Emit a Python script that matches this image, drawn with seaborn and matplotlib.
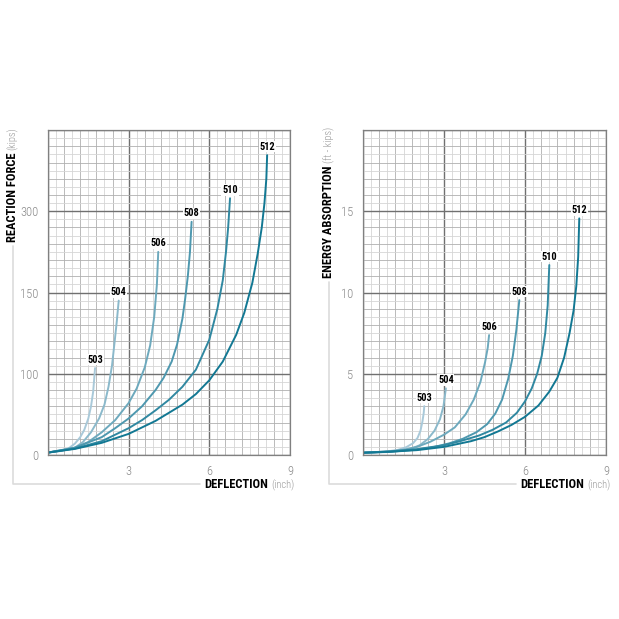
import numpy as np
import pandas as pd
import matplotlib
matplotlib.use("Agg")
import matplotlib.pyplot as plt
from matplotlib.lines import Line2D
import seaborn as sns

models = ["503", "504", "506", "508", "510", "512"]

# reaction force (kips) vs deflection (inch)
rf_503_x = [0, 0.5, 0.8, 1.0, 1.2, 1.35, 1.5, 1.6, 1.68, 1.75]
rf_503_y = [3, 5, 9, 14, 22, 31, 45, 60, 78, 103.5]
rf_504_x = [0, 0.6, 1.0, 1.3, 1.6, 1.9, 2.1, 2.25, 2.38, 2.48, 2.56, 2.63]
rf_504_y = [3, 6, 9, 16, 28, 45, 62, 84, 105, 120, 132.5, 145]
rf_506_x = [0, 1.0, 1.5, 2.0, 2.5, 3.0, 3.3, 3.6, 3.8, 3.95, 4.05, 4.10]
rf_506_y = [3, 9, 16, 28, 43, 64, 82, 104, 117.5, 135, 165, 225]
rf_508_x = [0, 1.0, 2.0, 2.5, 3.0, 3.5, 4.0, 4.3, 4.6, 4.8, 5.0, 5.1, 5.2, 5.28, 5.34]
rf_508_y = [3, 9, 22, 33, 45, 60, 80, 95, 107.5, 118, 134, 146, 180, 225, 280.5]
rf_510_x = [0, 1.0, 2.0, 3.0, 3.5, 4.0, 4.5, 5.0, 5.5, 6.0, 6.3, 6.5, 6.62, 6.7, 6.77]
rf_510_y = [3, 8, 17, 33, 43, 55, 68, 84, 102.5, 121, 140, 172.5, 225, 270, 324]
rf_512_x = [0, 1.0, 2.0, 3.0, 4.0, 5.0, 5.5, 6.0, 6.5, 7.0, 7.3, 7.6, 7.8, 7.95, 8.05, 8.12, 8.15]
rf_512_y = [3, 7.5, 15, 26, 42, 62, 75, 92, 107.5, 124, 137.5, 168, 222, 270, 315, 360, 403.5]

# energy absorption (ft-kips) vs deflection (inch)
ea_503_x = [0, 0.9, 1.3, 1.6, 1.85, 2.02, 2.13, 2.2, 2.25, 2.27]
ea_503_y = [0.14, 0.22, 0.32, 0.48, 0.72, 1.05, 1.5, 2.05, 2.6, 3.01]
ea_504_x = [0, 0.9, 1.4, 1.8, 2.1, 2.4, 2.65, 2.85, 2.98, 3.07]
ea_504_y = [0.14, 0.18, 0.26, 0.4, 0.6, 0.98, 1.5, 2.2, 3.0, 4.10]
ea_506_x = [0, 1.0, 1.5, 2.0, 2.5, 3.0, 3.4, 3.8, 4.1, 4.35, 4.52, 4.62, 4.67]
ea_506_y = [0.14, 0.22, 0.32, 0.5, 0.82, 1.25, 1.7, 2.5, 3.4, 4.5, 5.7, 6.6, 7.38]
ea_508_x = [0, 1.0, 2.0, 2.6, 3.2, 3.7, 4.2, 4.6, 4.9, 5.15, 5.38, 5.55, 5.68, 5.79]
ea_508_y = [0.14, 0.2, 0.33, 0.48, 0.72, 1.0, 1.4, 1.9, 2.55, 3.4, 4.7, 6.1, 7.7, 9.53]
ea_510_x = [0, 1.0, 2.0, 3.0, 3.6, 4.3, 4.8, 5.3, 5.7, 6.0, 6.25, 6.45, 6.62, 6.75, 6.84, 6.90]
ea_510_y = [0.14, 0.22, 0.36, 0.6, 0.85, 1.2, 1.55, 2.0, 2.6, 3.3, 4.1, 5.0, 6.1, 7.5, 9.2, 11.69]
ea_512_x = [0, 1.0, 2.0, 3.0, 4.0, 4.5, 5.0, 5.5, 6.0, 6.5, 6.9, 7.2, 7.45, 7.65, 7.8, 7.9, 7.97, 8.01]
ea_512_y = [0.14, 0.2, 0.3, 0.5, 0.85, 1.1, 1.45, 1.85, 2.35, 3.05, 3.9, 4.75, 6.0, 7.5, 8.9, 10.4, 12.2, 14.56]

# left axis: major ticks are equally spaced on the chart
rf_breaks = [0, 100, 150, 300, 450]
rf_ticks = [0, 100, 150, 300]
ea_ticks = [0, 5, 10, 15]
x_ticks = [3, 6, 9]


def frame(xs, ys, name):
    parts = []
    for m in models:
        parts.append(pd.DataFrame({"deflection": xs[m], name: ys[m], "model": m}))
    return pd.concat(parts, ignore_index=True)


rf = frame(dict(zip(models, [rf_503_x, rf_504_x, rf_506_x, rf_508_x, rf_510_x, rf_512_x])),
           dict(zip(models, [rf_503_y, rf_504_y, rf_506_y, rf_508_y, rf_510_y, rf_512_y])),
           "force")
ea = frame(dict(zip(models, [ea_503_x, ea_504_x, ea_506_x, ea_508_x, ea_510_x, ea_512_x])),
           dict(zip(models, [ea_503_y, ea_504_y, ea_506_y, ea_508_y, ea_510_y, ea_512_y])),
           "energy")

sns.set_style("white")
plt.rcParams["font.family"] = ["Roboto Condensed", "Archivo Narrow", "PT Sans Narrow",
                               "Liberation Sans Narrow", "DejaVu Sans"]

palette = dict(zip(models, sns.blend_palette(["#a9c9d9", "#127893"], 6)))

W = 619.0
fig = plt.figure(figsize=(6.19, 6.19), dpi=100)
fig.patch.set_facecolor("white")
ax1 = fig.add_axes([48 / W, 1 - 455 / W, 242 / W, 325 / W])
ax2 = fig.add_axes([363 / W, 1 - 455 / W, 243 / W, 325 / W])


def fwd(v):
    return np.interp(v, rf_breaks, [0, 1, 2, 3, 4])


def inv(u):
    return np.interp(u, [0, 1, 2, 3, 4], rf_breaks)


ax1.set_yscale("function", functions=(fwd, inv))


def grid(ax, ylines):
    xs = np.linspace(0, 9, 31)
    for lines, axline in [(xs, ax.axvline), (ylines, ax.axhline)]:
        for i, v in enumerate(lines):
            if i % 10 == 0:
                c, lw = "#707070", 1.0
            else:
                c, lw = ("#b0b0b0" if i % 2 == 0 else "#d6d6d6"), 0.6
            axline(v, color=c, lw=lw, zorder=0)


us = np.linspace(0, 4, 41)
grid(ax1, inv(us))
grid(ax2, us * 5)

sns.lineplot(data=rf, x="deflection", y="force", hue="model", palette=palette,
             estimator=None, sort=False, legend=False, lw=1.4, ax=ax1)
sns.lineplot(data=ea, x="deflection", y="energy", hue="model", palette=palette,
             estimator=None, sort=False, legend=False, lw=1.4, ax=ax2)

for ax, df, col in [(ax1, rf, "force"), (ax2, ea, "energy")]:
    for m in models:
        last = df[df["model"] == m].iloc[-1]
        ax.annotate(m, xy=(last["deflection"], last[col]), xytext=(0, 2.5),
                    textcoords="offset points", ha="center", va="bottom",
                    fontsize=7.5, fontweight="bold", color="black", zorder=5,
                    bbox=dict(fc="white", ec="none", pad=0.5))

ax1.set_ylim(0, 450)
ax1.set_yticks(rf_ticks)
ax1.set_yticklabels([str(t) for t in rf_ticks])
ax2.set_ylim(0, 20)
ax2.set_yticks(ea_ticks)
ax2.set_yticklabels([str(t) for t in ea_ticks])
for ax in (ax1, ax2):
    ax.set_xlim(0, 9)
    ax.set_xticks(x_ticks)
    ax.set_xticklabels([str(t) for t in x_ticks])
    ax.minorticks_off()
    ax.set_xlabel("")
    ax.set_ylabel("")
    ax.tick_params(length=4, width=0.8, color="#8a8a8a", labelcolor="#8a8a8a",
                   labelsize=9, pad=3)
    for lab in ax.get_xticklabels() + ax.get_yticklabels():
        lab.set_fontweight("light")
    for s in ax.spines.values():
        s.set_color("#808080")
        s.set_linewidth(0.9)

bold = dict(fontsize=9, fontweight="bold", color="black")
light = dict(fontsize=7.5, color="#9a9a9a", fontweight="light")

# axis titles: grey unit part first, bold name chained next to it
titles = []
for ax, x, name, unit in [(ax1, 12.5, "REACTION FORCE", "(kips)"),
                          (ax2, 329, "ENERGY ABSORPTION", "(ft - kips)")]:
    u = fig.text(x / W, 1 - 127 / W, unit, rotation=90, ha="center", va="top", **light)
    t = ax.annotate(name, xy=(0.5, 0), xycoords=u, xytext=(0, -2),
                    textcoords="offset points", rotation=90, ha="center", va="top",
                    annotation_clip=False, **bold)
    titles.append(t)
xtitles = []
for ax, x in [(ax1, 294), (ax2, 610)]:
    u = fig.text(x / W, 1 - 485 / W, "(inch)", ha="right", va="center", **light)
    t = ax.annotate("DEFLECTION", xy=(0, 0.5), xycoords=u, xytext=(-2, 0.5),
                    textcoords="offset points", ha="right", va="center",
                    annotation_clip=False, **bold)
    xtitles.append(t)

# thin bracket lines joining the axis titles
fig.canvas.draw()
r = fig.canvas.get_renderer()
for yt, xt in zip(titles, xtitles):
    yb = yt.get_window_extent(r)
    xb = xt.get_window_extent(r)
    xv = (yb.x0 + yb.x1) / 2 / W
    ytop = (yb.y0 - 4) / W
    ybot = (xb.y0 + xb.y1) / 2 / W
    xend = (xb.x0 - 4) / W
    fig.add_artist(Line2D([xv, xv, xend], [ytop, ybot, ybot], color="#dcdcdc", lw=1.2))

fig.savefig("out.png", dpi=100, facecolor="white")
